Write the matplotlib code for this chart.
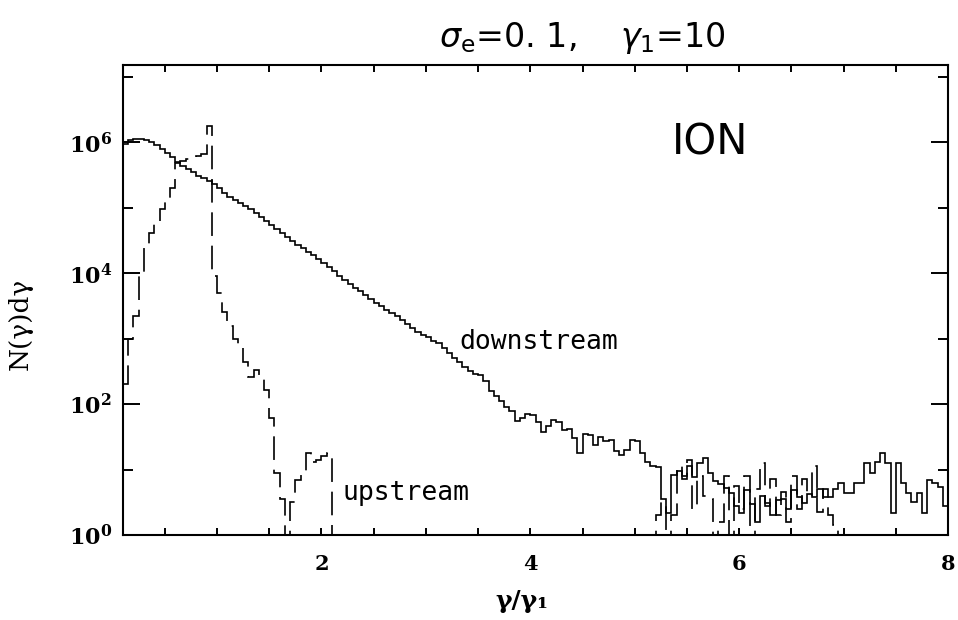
import numpy as np
import matplotlib
matplotlib.use('Agg')
import matplotlib.pyplot as plt
from matplotlib.ticker import FixedLocator, FixedFormatter

plt.rcParams['mathtext.fontset'] = 'dejavuserif'
plt.rcParams['lines.scale_dashes'] = False

# histogram bins in gamma/gamma_1
x_start = 0.1
bin_width = 0.05

# log10 of counts per bin, downstream (solid)
down_log = [5.97, 6.03, 6.05, 6.05, 6.04, 6.01, 5.96, 5.90, 5.84, 5.77,
            5.70, 5.64, 5.59, 5.54, 5.49, 5.45, 5.40, 5.36, 5.30, 5.23,
            5.16, 5.11, 5.07, 5.03, 4.98, 4.92, 4.86, 4.80, 4.73, 4.67,
            4.61, 4.55, 4.49, 4.43, 4.38, 4.32, 4.27, 4.21, 4.15, 4.09,
            4.03, 3.96, 3.90, 3.83, 3.78, 3.73, 3.67, 3.61, 3.55, 3.50,
            3.44, 3.39, 3.34, 3.28, 3.22, 3.16, 3.10, 3.06, 3.02, 2.97,
            2.93, 2.86, 2.78, 2.70, 2.64, 2.57, 2.50, 2.46, 2.45, 2.36,
            2.20, 2.13, 2.05, 1.96, 1.90, 1.74, 1.78, 1.85, 1.83, 1.72,
            1.58, 1.66, 1.76, 1.73, 1.60, 1.62, 1.48, 1.26, 1.55, 1.52,
            1.38, 1.49, 1.44, 1.45, 1.28, 1.22, 1.30, 1.45, 1.44, 1.25,
            1.12, 1.05, 1.04, 0.55, 0.34, 0.92, 0.98, 0.90, 1.05, 0.88,
            1.10, 1.18, 0.95, 0.82, 0.78, 0.72, 0.64, 0.45, 0.34, 0.69,
            0.48, 0.20, 0.60, 0.49, 0.30, 0.53, 0.55, 0.40, 0.69, 0.58,
            0.49, 0.62, 0.58, 0.70, 0.58, 0.58, 0.70, 0.79, 0.64, 0.64,
            0.79, 0.79, 1.10, 0.95, 1.12, 1.25, 1.10, 0.34, 1.10, 0.80,
            0.64, 0.50, 0.64, 0.34, 0.84, 0.80, 0.73, 0.45]

# log10 of counts per bin, upstream (dashed); None = empty bin
up_log = [2.30, 3.00, 3.35, 3.95, 4.40, 4.62, 4.80, 4.98, 5.12, 5.30,
          5.68, 5.72, 5.75, 5.77, 5.79, 5.82, 6.25, 3.95, 3.70, 3.40,
          3.20, 3.00, 2.85, 2.65, 2.42, 2.52, 2.40, 2.22, 1.78, 0.95,
          0.55, None, 0.50, 0.84, 0.96, 1.25, 1.11, 1.15, 1.20, 1.25] + [None] * 62 + \
         [0.30, 0.50, None, 0.30, 1.05, 0.85, 1.15, 0.40, 0.90, 0.60,
          0.55, None, 0.20, 0.90, None, 0.75, 0.40, 0.90, None, 0.70,
          1.10, 0.45, 0.85, 0.30, 0.65, 0.20, 0.90, 0.40, 0.85, 0.60,
          1.05, 0.35, 0.70, 0.30, 0.15, None]
up_log = up_log + [None] * (len(down_log) - len(up_log))

y_ticks = [1, 1e2, 1e4, 1e6]
y_tick_labels = [r'$\mathbf{10^{0}}$', r'$\mathbf{10^{2}}$', r'$\mathbf{10^{4}}$', r'$\mathbf{10^{6}}$']
x_ticks = [2, 4, 6, 8]
x_tick_labels = ['2', '4', '6', '8']

edges = x_start + bin_width * np.arange(len(down_log) + 1)
down = 10.0 ** np.array(down_log)
up = np.array([1e-3 if v is None else 10.0 ** v for v in up_log])

fig = plt.figure(figsize=(9.58, 6.2), dpi=100)
ax = fig.add_axes([0.1284, 0.1371, 0.8612, 0.7581])

ax.stairs(down, edges, color='black', linewidth=1.2, baseline=None)
ax.stairs(up, edges, color='black', linewidth=1.2, baseline=None,
          linestyle=(0, (17, 7)))

ax.set_yscale('log')
ax.set_xlim(0.1, 8.0)
ax.set_ylim(1, 10 ** 7.18)

ax.yaxis.set_major_locator(FixedLocator(y_ticks))
ax.yaxis.set_major_formatter(FixedFormatter(y_tick_labels))
ax.yaxis.set_minor_locator(FixedLocator([1e1, 1e3, 1e5, 1e7]))
ax.yaxis.set_minor_formatter(FixedFormatter([]))
ax.xaxis.set_major_locator(FixedLocator(x_ticks))
ax.xaxis.set_major_formatter(FixedFormatter(x_tick_labels))
ax.xaxis.set_minor_locator(FixedLocator(np.arange(0.5, 8.0, 0.5)))

ax.tick_params(which='both', direction='in', top=True, right=True, width=1.4)
ax.tick_params(axis='y', which='major', length=12, pad=8, labelsize=16)
ax.tick_params(axis='y', which='minor', length=7)
ax.tick_params(axis='x', which='both', length=5, pad=14)
ax.tick_params(axis='x', which='major', labelsize=15)
for lab in ax.get_xticklabels():
    lab.set_family('DejaVu Serif')
    lab.set_weight('bold')
for s in ax.spines.values():
    s.set_linewidth(1.5)

ax.set_xlabel('γ/γ₁', family='DejaVu Serif', fontweight='bold', fontsize=18,
              va='center')
ax.xaxis.set_label_coords(0.484, -0.14)
ax.set_ylabel('N(γ)dγ', family='DejaVu Serif', fontsize=19, va='center')
ax.yaxis.set_label_coords(-0.125, 0.45)

ax.text(3.32, 10 ** 2.95, 'downstream', family='DejaVu Sans Mono', fontsize=19, va='center')
ax.text(2.2, 10 ** 0.64, 'upstream', family='DejaVu Sans Mono', fontsize=19, va='center')
ax.text(5.72, 10 ** 6.0, 'ION', family='DejaVu Sans',
        fontsize=30, ha='center', va='center')

fig.text(0.608, 0.924, r'$\sigma_{\rm e}$=0. 1,    $\gamma_{1}$=10', fontsize=24,
         ha='center', va='baseline', family='DejaVu Sans',
         math_fontfamily='dejavusans')

fig.savefig('out.png', dpi=100, facecolor='white')
